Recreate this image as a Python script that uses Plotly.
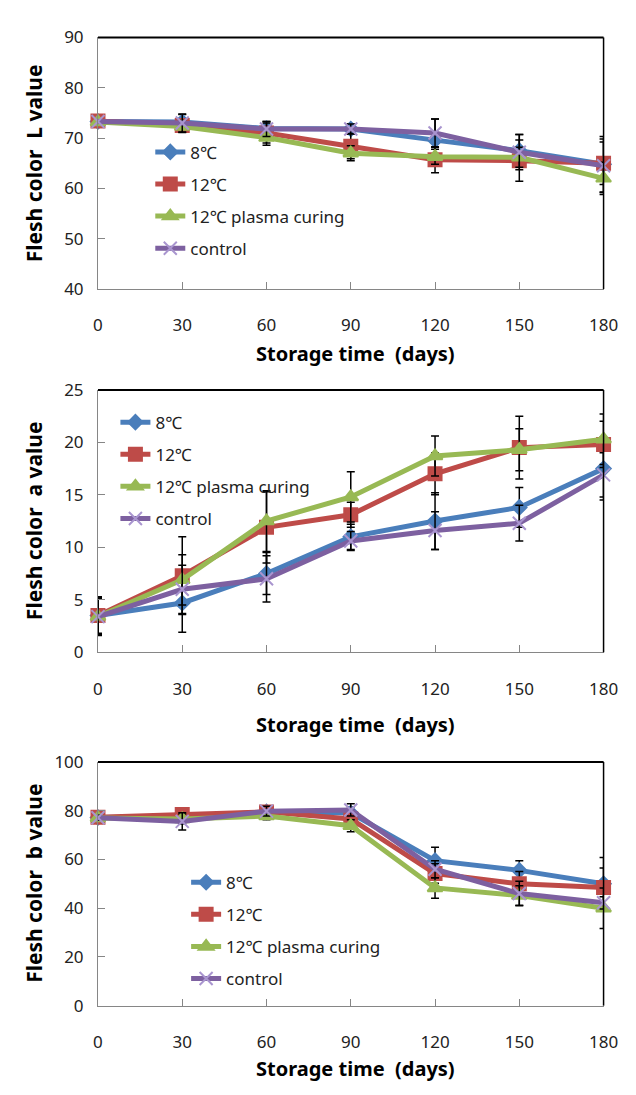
import plotly.graph_objects as go

days = [0, 30, 60, 90, 120, 150, 180]
x_ticks = [0, 30, 60, 90, 120, 150, 180]
series_names = ["8℃", "12℃", "12℃ plasma curing", "control"]

# L value
L_8 = [73.3, 73.2, 71.9, 71.8, 69.6, 67.5, 64.8]
L_12 = [73.4, 72.5, 71.0, 68.4, 65.7, 65.5, 65.0]
L_pl = [73.2, 72.3, 70.1, 67.0, 66.3, 66.2, 62.0]
L_ct = [73.3, 73.0, 71.8, 71.8, 71.0, 67.2, 64.5]
L_8_err = [0.3, 1.5, 1.4, 1.0, 4.2, 3.2, 5.5]
L_12_err = [0.3, 1.2, 2.0, 2.5, 2.6, 4.1, 4.2]
L_pl_err = [0.3, 1.2, 1.5, 1.5, 1.5, 2.0, 3.2]
L_ct_err = [0.3, 1.8, 1.5, 1.0, 2.8, 3.5, 5.3]

# a value
a_8 = [3.5, 4.7, 7.5, 11.0, 12.5, 13.8, 17.5]
a_12 = [3.5, 7.3, 11.9, 13.1, 17.0, 19.5, 19.8]
a_pl = [3.4, 6.9, 12.5, 14.8, 18.7, 19.3, 20.3]
a_ct = [3.4, 6.0, 7.0, 10.6, 11.6, 12.3, 16.9]
a_8_err = [1.8, 2.8, 2.0, 1.2, 2.7, 1.9, 3.0]
a_12_err = [1.7, 3.7, 3.4, 1.2, 2.0, 3.0, 2.2]
a_pl_err = [1.8, 2.4, 2.9, 2.4, 1.9, 2.0, 2.4]
a_ct_err = [1.7, 2.3, 2.2, 0.9, 1.8, 1.7, 2.1]

# b value
b_8 = [77.2, 77.5, 79.5, 79.0, 59.5, 55.5, 50.0]
b_12 = [77.3, 78.4, 79.5, 76.6, 54.2, 50.0, 48.5]
b_pl = [77.0, 76.6, 77.8, 73.8, 48.3, 45.2, 40.0]
b_ct = [77.1, 75.6, 79.8, 80.3, 56.0, 46.0, 42.2]
b_8_err = [1.0, 1.5, 2.0, 2.5, 5.5, 4.0, 10.8]
b_12_err = [1.0, 2.5, 2.0, 3.5, 4.0, 5.0, 8.0]
b_pl_err = [1.0, 2.0, 1.5, 2.5, 4.2, 4.0, 8.3]
b_ct_err = [1.0, 3.5, 2.0, 2.5, 3.5, 5.0, 2.5]

colors = ["#4a7ebb", "#be4b48", "#98b954", "#7d60a0"]
symbols = ["diamond", "square", "triangle-up", "x-thin-open"]
msizes = [11, 13, 13, 13]

W, H = 636, 1095
xdom = [96 / W, 618 / W]
panels = [
    dict(vals=[L_8, L_12, L_pl, L_ct], errs=[L_8_err, L_12_err, L_pl_err, L_ct_err],
         yr=[40, 90], dt=10, top=26, bot=283, ytitle="Flesh color  L value",
         legx=150, legy=125, xt=349),
    dict(vals=[a_8, a_12, a_pl, a_ct], errs=[a_8_err, a_12_err, a_pl_err, a_ct_err],
         yr=[0, 25], dt=5, top=386, bot=654, ytitle="Flesh color  a value",
         legx=114, legy=401, xt=728),
    dict(vals=[b_8, b_12, b_pl, b_ct], errs=[b_8_err, b_12_err, b_pl_err, b_ct_err],
         yr=[0, 100], dt=20, top=766, bot=1015, ytitle="Flesh color  b value",
         legx=187, legy=871, xt=1079),
]

fig = go.Figure()
FONT = "Noto Sans, Noto Sans CJK KR, sans-serif"
layout = {}
annotations = []
shapes = []
for i, p in enumerate(panels):
    k = "" if i == 0 else str(i + 1)
    xa, ya = "x" + k, "y" + k
    leg = "legend" if i == 0 else "legend" + str(i + 1)
    for j in range(4):
        mc = colors[j] if j < 3 else "#a995cf"
        fig.add_trace(go.Scatter(
            x=days, y=p["vals"][j], name=series_names[j], xaxis=xa, yaxis=ya,
            mode="lines+markers", cliponaxis=False, legend=leg,
            legendgroup=f"g{i}{j}",
            line=dict(color=colors[j], width=5),
            marker=dict(symbol=symbols[j], size=msizes[j], color=mc, line=dict(width=2, color=mc)),
            error_y=dict(type="data", array=p["errs"][j], color="black", thickness=1.5, width=4),
        ))
    ydom = [1 - p["bot"] / H, 1 - p["top"] / H]
    layout["xaxis" + k] = dict(
        domain=xdom, anchor=ya, range=[0, 180], tickvals=x_ticks, ticks="inside", ticklen=7,
        tickcolor="#868686", showline=True, linecolor="#868686", linewidth=1, showgrid=False,
        zeroline=False, ticklabelstandoff=21, tickfont=dict(family=FONT, size=17, color="#222"),
    )
    layout["yaxis" + k] = dict(
        domain=ydom, anchor=xa, range=p["yr"], dtick=p["dt"], ticks="inside", ticklen=7,
        tickcolor="#868686", showline=True, linecolor="#868686", linewidth=1, showgrid=False,
        zeroline=False, ticklabelstandoff=10, tickfont=dict(family=FONT, size=17, color="#222"),
    )
    layout[leg] = dict(
        x=p["legx"] / W, y=1 - p["legy"] / H, xanchor="left", yanchor="top",
        bgcolor="rgba(0,0,0,0)", font=dict(family=FONT, size=17, color="#222"),
        tracegroupgap=7, itemwidth=30,
    )
    shapes.append(dict(type="line", xref=xa + " domain", yref=ya + " domain", x0=0, x1=1, y0=1, y1=1,
                       line=dict(color="black", width=2)))
    shapes.append(dict(type="line", xref=xa + " domain", yref=ya + " domain", x0=1, x1=1, y0=0, y1=1,
                       line=dict(color="black", width=1.5)))
    annotations.append(dict(text="<b>" + p["ytitle"] + "</b>", xref="paper", yref="paper",
                            x=30 / W, y=1 - (p["top"] + p["bot"]) / 2 / H, textangle=-90,
                            showarrow=False, font=dict(family=FONT, size=21, color="black"),
                            xanchor="center", yanchor="middle"))
    annotations.append(dict(text="<b>Storage time  (days)</b>", xref="paper", yref="paper",
                            x=362 / W, y=1 - p["xt"] / H,
                            showarrow=False, font=dict(family=FONT, size=20, color="black"),
                            xanchor="center", yanchor="middle"))

fig.update_layout(
    width=W, height=H, margin=dict(l=0, r=0, t=0, b=0),
    paper_bgcolor="white", plot_bgcolor="white",
    showlegend=True, annotations=annotations, shapes=shapes, **layout,
)
fig.write_html("out.html")
